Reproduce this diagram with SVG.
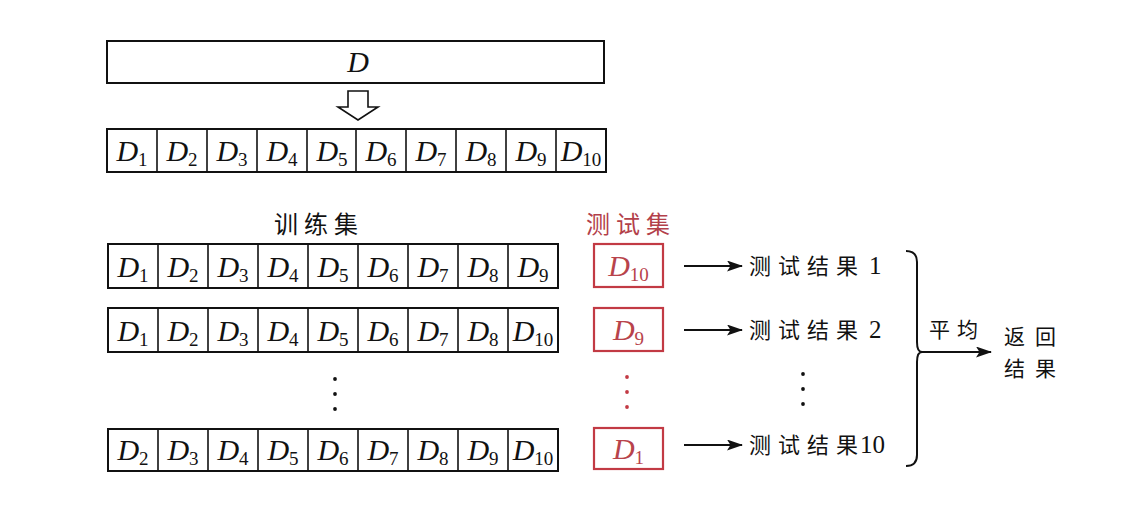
<svg xmlns="http://www.w3.org/2000/svg" width="1136" height="511" viewBox="0 0 1136 511">
<style>
.box{fill:#fff;stroke:#111;stroke-width:2}
.div{stroke:#111;stroke-width:1.6}
.rbox{fill:#fff;stroke:#c23a44;stroke-width:2.2}
.m{font-family:"Liberation Serif",serif;font-style:italic;font-size:30px;fill:#111;text-anchor:middle}
.rm{fill:#b8434b}
.s{font-style:normal;font-size:19px}
.cjk{font-family:"Noto Sans CJK SC",sans-serif;fill:#111}
.num{font-family:"Liberation Serif",serif}
.red{fill:#b3404a}
.dot{fill:#111}
.rdot{fill:#c23a44}
.ln{stroke:#111;stroke-width:2;fill:none}
</style>
<defs>
<marker id="ah" viewBox="0 0 16 11" refX="15" refY="5.5" markerWidth="16" markerHeight="11" markerUnits="userSpaceOnUse" orient="auto">
<path d="M0,0 L16,5.5 L0,11 L3.5,5.5 Z" fill="#111"/>
</marker>
</defs>

<g id="node-D">
<rect class="box" x="107" y="41" width="497" height="42"/>
<text class="m" x="358" y="72">D</text>
</g>

<g id="node-split">
<rect class="box" x="107" y="129" width="499" height="43"/>
<g class="div">
<line x1="157" y1="129" x2="157" y2="172"/><line x1="207" y1="129" x2="207" y2="172"/><line x1="257" y1="129" x2="257" y2="172"/><line x1="307" y1="129" x2="307" y2="172"/><line x1="356" y1="129" x2="356" y2="172"/><line x1="406" y1="129" x2="406" y2="172"/><line x1="456" y1="129" x2="456" y2="172"/><line x1="506" y1="129" x2="506" y2="172"/><line x1="556" y1="129" x2="556" y2="172"/>
</g>
<text class="m" x="132" y="161">D<tspan class="s" dy="5">1</tspan></text>
<text class="m" x="182" y="161">D<tspan class="s" dy="5">2</tspan></text>
<text class="m" x="232" y="161">D<tspan class="s" dy="5">3</tspan></text>
<text class="m" x="282" y="161">D<tspan class="s" dy="5">4</tspan></text>
<text class="m" x="332" y="161">D<tspan class="s" dy="5">5</tspan></text>
<text class="m" x="381" y="161">D<tspan class="s" dy="5">6</tspan></text>
<text class="m" x="431" y="161">D<tspan class="s" dy="5">7</tspan></text>
<text class="m" x="481" y="161">D<tspan class="s" dy="5">8</tspan></text>
<text class="m" x="531" y="161">D<tspan class="s" dy="5">9</tspan></text>
<text class="m" x="581" y="161">D<tspan class="s" dy="5">10</tspan></text>
</g>

<g id="label-train">
<text class="cjk" x="274 304 334" y="233" font-size="24">训练集</text>
</g>
<g id="label-test">
<text class="cjk red" x="586 616 646" y="233" font-size="24">测试集</text>
</g>

<g id="train-1">
<rect class="box" x="108" y="244" width="450" height="44"/>
<g class="div">
<line x1="158" y1="244" x2="158" y2="288"/><line x1="208" y1="244" x2="208" y2="288"/><line x1="258" y1="244" x2="258" y2="288"/><line x1="308" y1="244" x2="308" y2="288"/><line x1="358" y1="244" x2="358" y2="288"/><line x1="408" y1="244" x2="408" y2="288"/><line x1="458" y1="244" x2="458" y2="288"/><line x1="508" y1="244" x2="508" y2="288"/>
</g>
<text class="m" x="133" y="276.5">D<tspan class="s" dy="5">1</tspan></text>
<text class="m" x="183" y="276.5">D<tspan class="s" dy="5">2</tspan></text>
<text class="m" x="233" y="276.5">D<tspan class="s" dy="5">3</tspan></text>
<text class="m" x="283" y="276.5">D<tspan class="s" dy="5">4</tspan></text>
<text class="m" x="333" y="276.5">D<tspan class="s" dy="5">5</tspan></text>
<text class="m" x="383" y="276.5">D<tspan class="s" dy="5">6</tspan></text>
<text class="m" x="433" y="276.5">D<tspan class="s" dy="5">7</tspan></text>
<text class="m" x="483" y="276.5">D<tspan class="s" dy="5">8</tspan></text>
<text class="m" x="533" y="276.5">D<tspan class="s" dy="5">9</tspan></text>
</g>

<g id="train-2">
<rect class="box" x="108" y="308" width="450" height="44"/>
<g class="div">
<line x1="158" y1="308" x2="158" y2="352"/><line x1="208" y1="308" x2="208" y2="352"/><line x1="258" y1="308" x2="258" y2="352"/><line x1="308" y1="308" x2="308" y2="352"/><line x1="358" y1="308" x2="358" y2="352"/><line x1="408" y1="308" x2="408" y2="352"/><line x1="458" y1="308" x2="458" y2="352"/><line x1="508" y1="308" x2="508" y2="352"/>
</g>
<text class="m" x="133" y="340.5">D<tspan class="s" dy="5">1</tspan></text>
<text class="m" x="183" y="340.5">D<tspan class="s" dy="5">2</tspan></text>
<text class="m" x="233" y="340.5">D<tspan class="s" dy="5">3</tspan></text>
<text class="m" x="283" y="340.5">D<tspan class="s" dy="5">4</tspan></text>
<text class="m" x="333" y="340.5">D<tspan class="s" dy="5">5</tspan></text>
<text class="m" x="383" y="340.5">D<tspan class="s" dy="5">6</tspan></text>
<text class="m" x="433" y="340.5">D<tspan class="s" dy="5">7</tspan></text>
<text class="m" x="483" y="340.5">D<tspan class="s" dy="5">8</tspan></text>
<text class="m" x="533" y="340.5">D<tspan class="s" dy="5">10</tspan></text>
</g>

<g id="train-dots">
<circle class="dot" cx="335" cy="379" r="1.9"/><circle class="dot" cx="335" cy="394" r="1.9"/><circle class="dot" cx="335" cy="409" r="1.9"/>
</g>

<g id="train-10">
<rect class="box" x="108" y="429" width="450" height="42"/>
<g class="div">
<line x1="158" y1="429" x2="158" y2="471"/><line x1="208" y1="429" x2="208" y2="471"/><line x1="258" y1="429" x2="258" y2="471"/><line x1="308" y1="429" x2="308" y2="471"/><line x1="358" y1="429" x2="358" y2="471"/><line x1="408" y1="429" x2="408" y2="471"/><line x1="458" y1="429" x2="458" y2="471"/><line x1="508" y1="429" x2="508" y2="471"/>
</g>
<text class="m" x="133" y="460">D<tspan class="s" dy="5">2</tspan></text>
<text class="m" x="183" y="460">D<tspan class="s" dy="5">3</tspan></text>
<text class="m" x="233" y="460">D<tspan class="s" dy="5">4</tspan></text>
<text class="m" x="283" y="460">D<tspan class="s" dy="5">5</tspan></text>
<text class="m" x="333" y="460">D<tspan class="s" dy="5">6</tspan></text>
<text class="m" x="383" y="460">D<tspan class="s" dy="5">7</tspan></text>
<text class="m" x="433" y="460">D<tspan class="s" dy="5">8</tspan></text>
<text class="m" x="483" y="460">D<tspan class="s" dy="5">9</tspan></text>
<text class="m" x="533" y="460">D<tspan class="s" dy="5">10</tspan></text>
</g>

<g id="test-1">
<rect class="rbox" x="594" y="244" width="69" height="43"/>
<text class="m rm" x="628.5" y="276">D<tspan class="s" dy="5">10</tspan></text>
</g>
<g id="test-2">
<rect class="rbox" x="594" y="308" width="69" height="43"/>
<text class="m rm" x="628.5" y="340">D<tspan class="s" dy="5">9</tspan></text>
</g>
<g id="test-dots">
<circle class="rdot" cx="627" cy="377" r="1.9"/><circle class="rdot" cx="627" cy="392" r="1.9"/><circle class="rdot" cx="627" cy="407" r="1.9"/>
</g>
<g id="test-10">
<rect class="rbox" x="594" y="428" width="69" height="41"/>
<text class="m rm" x="628.5" y="459">D<tspan class="s" dy="5">1</tspan></text>
</g>

<g id="result-1">
<text class="cjk" x="749 778 807 836" y="274" font-size="22">测试结果</text>
<text class="num" x="869" y="274" font-size="25" fill="#111">1</text>
</g>
<g id="result-2">
<text class="cjk" x="749 778 807 836" y="338" font-size="22">测试结果</text>
<text class="num" x="869" y="338" font-size="25" fill="#111">2</text>
</g>
<g id="result-dots">
<circle class="dot" cx="803" cy="374" r="1.9"/><circle class="dot" cx="803" cy="389" r="1.9"/><circle class="dot" cx="803" cy="404" r="1.9"/>
</g>
<g id="result-10">
<text class="cjk" x="749 778 807 836" y="453" font-size="22">测试结果</text>
<text class="num" x="860" y="453" font-size="25" fill="#111">10</text>
</g>

<g id="average-label">
<text class="cjk" x="929 957" y="337" font-size="21">平均</text>
</g>
<g id="final-result">
<text class="cjk" x="1004 1035" y="344" font-size="21">返回</text>
<text class="cjk" x="1004 1035" y="376" font-size="21">结果</text>
</g>

<g id="connectors">
<polygon points="348,91 368,91 368,107 378,107 358,120 338,107 348,107" fill="#fff" stroke="#111" stroke-width="1.6" stroke-linejoin="miter"/>
<line class="ln" x1="684" y1="266" x2="742" y2="266" marker-end="url(#ah)"/>
<line class="ln" x1="684" y1="330" x2="742" y2="330" marker-end="url(#ah)"/>
<line class="ln" x1="684" y1="445" x2="742" y2="445" marker-end="url(#ah)"/>
<path class="ln" stroke-width="2.4" d="M906,251 Q917,251 917,262 L917,342 Q917,352 922,352 Q917,352 917,362 L917,455 Q917,466 906,466"/>
<line class="ln" x1="920" y1="352" x2="991" y2="352" marker-end="url(#ah)"/>
</g>
</svg>
